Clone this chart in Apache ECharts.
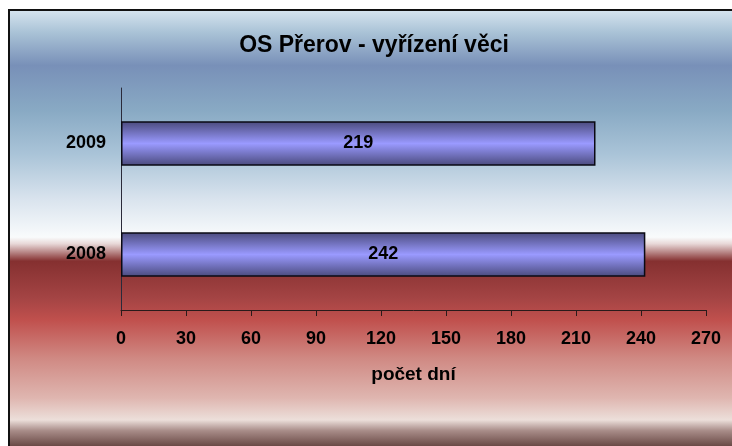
<!DOCTYPE html>
<html>
<head>
<meta charset="utf-8">
<style>
  html, body { margin: 0; padding: 0; background: #ffffff; }
  #chart { width: 732px; height: 446px; }
</style>
<script src="https://cdn.jsdelivr.net/npm/echarts@6/dist/echarts.min.js"></script>
</head>
<body>
<div id="chart"></div>
<script>
// Court statistics: average days to resolve a case
const years = ['2008', '2009'];
const days = [242, 219];
const axisMin = 0;
const axisMax = 270;
const axisStep = 30;

const chart = echarts.init(document.getElementById('chart'), null, { renderer: 'canvas' });

const font = 'Liberation Sans, Arial, sans-serif';

const option = {
  animation: false,
  graphic: [
    {
      type: 'rect',
      z: -10,
      shape: { x: 9, y: 11, width: 723, height: 435 },
      style: {
        fill: {
          type: 'linear', x: 0, y: 0, x2: 0, y2: 1,
          colorStops: [
            { offset: 0.00, color: '#d4e3ee' },
            { offset: 0.05, color: '#a9c2d6' },
            { offset: 0.125, color: '#7890b8' },
            { offset: 0.23, color: '#89aac4' },
            { offset: 0.33, color: '#aac4d8' },
            { offset: 0.435, color: '#dae4ee' },
            { offset: 0.52, color: '#f9fbfc' },
            { offset: 0.535, color: '#e8d8d8' },
            { offset: 0.575, color: '#853030' },
            { offset: 0.66, color: '#a44444' },
            { offset: 0.71, color: '#c0504d' },
            { offset: 0.80, color: '#d08a84' },
            { offset: 0.89, color: '#dfb6b0' },
            { offset: 0.94, color: '#ecdfda' },
            { offset: 0.965, color: '#a88c88' },
            { offset: 1.00, color: '#6a4a46' }
          ]
        }
      }
    },
    {
      type: 'line', z: 10,
      shape: { x1: 8, y1: 10, x2: 732, y2: 10 },
      style: { stroke: '#111111', lineWidth: 2 }
    },
    {
      type: 'line', z: 10,
      shape: { x1: 9, y1: 10, x2: 9, y2: 446 },
      style: { stroke: '#111111', lineWidth: 2 }
    }
  ],
  title: {
    text: 'OS Přerov - vyřízení věci',
    left: 369,
    top: 29,
    textAlign: 'center',
    textStyle: { fontFamily: font, fontWeight: 'bold', fontSize: 23, color: '#000000' }
  },
  grid: { left: 121, right: 26, top: 88, bottom: 136, containLabel: false },
  xAxis: {
    type: 'value',
    min: axisMin,
    max: axisMax,
    interval: axisStep,
    name: 'počet dní',
    nameLocation: 'middle',
    nameGap: 55,
    nameTextStyle: { fontFamily: font, fontWeight: 'bold', fontSize: 19, color: '#000000' },
    axisLine: { show: true, lineStyle: { color: '#2a1a1a', width: 1 } },
    axisTick: { show: true, length: 6, inside: false, lineStyle: { color: '#2a1a1a' } },
    axisLabel: { margin: 20, fontFamily: font, fontWeight: 'bold', fontSize: 18, color: '#000000' },
    splitLine: { show: false }
  },
  yAxis: {
    type: 'category',
    data: years,
    axisLine: { show: true, lineStyle: { color: '#2a2a3a', width: 1 } },
    axisTick: { show: false },
    axisLabel: { margin: 15, fontFamily: font, fontWeight: 'bold', fontSize: 18, color: '#000000' }
  },
  series: [
    {
      type: 'bar',
      data: days,
      barCategoryGap: '60%',
      itemStyle: {
        color: {
          type: 'linear', x: 0, y: 0, x2: 0, y2: 1,
          colorStops: [
            { offset: 0, color: '#4a4a7c' },
            { offset: 0.5, color: '#9a9aff' },
            { offset: 1, color: '#4a4a7c' }
          ]
        },
        borderColor: '#0a0a14',
        borderWidth: 1.5
      },
      label: {
        show: true,
        position: 'inside',
        fontFamily: font,
        fontWeight: 'bold',
        fontSize: 18,
        color: '#000000'
      }
    }
  ]
};

chart.setOption(option);
</script>
</body>
</html>
